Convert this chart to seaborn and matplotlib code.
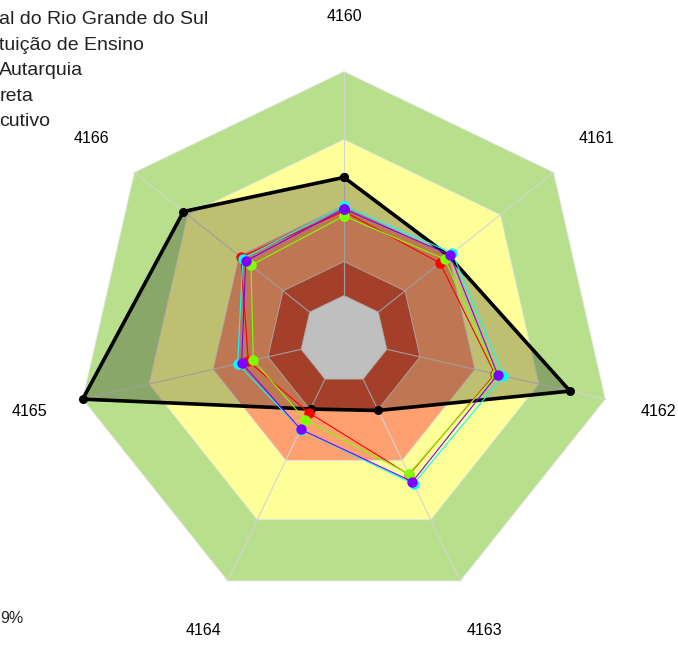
import numpy as np
import matplotlib
matplotlib.use("Agg")
import matplotlib.pyplot as plt
import seaborn as sns

# axis categories (clockwise from top)
AXES_LABELS = ["4160", "4161", "4162", "4163", "4164", "4165", "4166"]

# legend text as it shows (cut off at the left edge in the original)
LEGEND_TEXT = [
    "al do Rio Grande do Sul",
    "tuição de Ensino",
    "Autarquia",
    "reta",
    "cutivo",
]
FOOT_TEXT = "9%"

# background bands: outer bound of each band (fraction of full scale)
BAND_LIMITS = [1.0, 0.746, 0.501, 0.291, 0.164]
BAND_COLORS = ["#B8E08C", "#FFFF99", "#FFA070", "#DC5638", "#FFFFFF"]

# series values, one per axis
BLACK  = [0.605, 0.500, 0.865, 0.294, 0.288, 1.000, 0.766]
RED    = [0.478, 0.458, 0.578, 0.560, 0.303, 0.366, 0.493]
GREEN  = [0.461, 0.481, 0.582, 0.557, 0.333, 0.347, 0.444]
CYAN   = [0.498, 0.517, 0.610, 0.598, 0.373, 0.407, 0.483]
PURPLE = [0.487, 0.506, 0.588, 0.589, 0.372, 0.392, 0.469]

SERIES = [
    (RED,    "#FF0000"),
    (GREEN,  "#80FF00"),
    (CYAN,   "#00FFFF"),
    (PURPLE, "#8000FF"),
]

sns.set_style("white")
plt.rcParams["font.family"] = ["Liberation Sans", "DejaVu Sans"]

W, H = 678, 666
fig = plt.figure(figsize=(W / 100, H / 100), dpi=100)

# polar axes centred on the chart centre; r=1 is the outer band edge
cx, cy, R_PX, RMAX = 344, 339.5, 268, 1.25
rad = R_PX * RMAX
ax = fig.add_axes([(cx - rad) / W, (H - cy - rad) / H, 2 * rad / W, 2 * rad / H],
                  projection="polar")
ax.set_theta_zero_location("N")
ax.set_theta_direction(-1)
ax.set_ylim(0, RMAX)
ax.grid(False)
ax.set_xticks([])
ax.set_yticks([])
ax.spines["polar"].set_visible(False)
ax.patch.set_alpha(0)

n = len(AXES_LABELS)
theta = np.linspace(0, 2 * np.pi, n, endpoint=False)
theta_c = np.append(theta, theta[0] + 2 * np.pi)


def closed(vals):
    return np.append(vals, vals[0])


# bands, largest first
for lim, col in zip(BAND_LIMITS, BAND_COLORS):
    ax.fill(theta_c, [lim] * (n + 1), color=col, lw=0.6, ec="#E4E4E4", zorder=1)

# spokes
for t in theta:
    ax.plot([t, t], [BAND_LIMITS[-1], BAND_LIMITS[0]], color="#D4D4D4", lw=0.8, zorder=2)

# black series with translucent fill
ax.fill(theta_c, closed(BLACK), color="black", alpha=0.25, lw=0, zorder=3)
sns.lineplot(x=theta_c, y=closed(BLACK), ax=ax, sort=False, estimator=None,
             color="black", lw=2.6, marker="o", markersize=6.5, markeredgewidth=0,
             clip_on=False, zorder=4)

for i, (vals, col) in enumerate(SERIES):
    sns.lineplot(x=theta_c, y=closed(vals), ax=ax, sort=False, estimator=None,
                 color=col, lw=0.8, marker="o", markersize=7.5, markeredgewidth=0,
                 clip_on=False, zorder=5 + i)

ax.set_xlabel("")
ax.set_ylabel("")

# axis labels
for t, lab in zip(theta, AXES_LABELS):
    ax.text(t, 1.205, lab, ha="center", va="center", fontsize=11.5, color="black")

# cut-off legend text
for i, txt in enumerate(LEGEND_TEXT):
    fig.text(-0.001, 1 - (24 + 25.6 * i) / H, txt, ha="left", va="baseline",
             fontsize=14, color="#222222")

fig.text(0.0, 1 - 623 / H, FOOT_TEXT, ha="left", va="baseline", fontsize=11.5)

fig.savefig("out.png", dpi=100)
